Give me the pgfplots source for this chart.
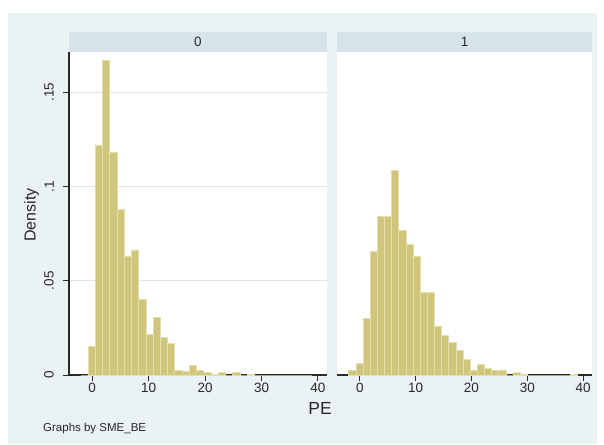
\documentclass[border=0pt]{standalone}
\usepackage{fontspec}
\setmainfont{Liberation Sans}
\usepackage{pgfplots}
\pgfplotsset{compat=1.18}
\definecolor{bg}{RGB}{234,242,243}
\definecolor{strip}{RGB}{214,227,234}
\definecolor{barfill}{RGB}{207,197,124}
\definecolor{barline}{RGB}{228,222,170}
\definecolor{gridc}{RGB}{222,230,234}
\definecolor{axc}{RGB}{40,40,40}
\pgfplotsset{
  panel/.style={
    anchor=south west, scale only axis,
    width=256pt, height=323pt,
    xmin=-4.1, xmax=41.6, ymin=0, ymax=0.1713,
    axis background/.style={fill=white},
    xtick={0,10,20,30,40}, xticklabels={0,10,20,30,40},
    ytick={0,0.05,0.1,0.15},
    ymajorgrids, grid style={gridc, line width=0.8pt},
    tick align=outside, major tick length=6pt,
    tick style={axc, line width=1pt},
    axis line style={axc, line width=1.2pt},
    ticklabel style={font=\fontsize{13.5}{15}\selectfont, text=axc},
    xticklabel style={yshift=1pt},
    clip=false,
  },
  bars/.style={ybar interval, fill=barfill, draw=barline, line width=0.6pt},
}
\begin{document}
\begin{tikzpicture}[x=1pt,y=1pt]
\fill[white] (0,0) rectangle (604,444);
\fill[bg] (8,0) rectangle (597,431);
\fill[strip] (69,392) rectangle (327,412);
\fill[strip] (337,392) rectangle (592,412);
\node[font=\fontsize{13.5}{15}\selectfont, text=axc] at (198,402) {0};
\node[font=\fontsize{13.5}{15}\selectfont, text=axc] at (464.5,402) {1};

\begin{axis}[panel, at={(69pt,69pt)}, width=258pt,
  axis x line*=bottom, axis y line*=left,
  yticklabels={0,.05,.1,.15},
  yticklabel style={rotate=90, anchor=south, inner sep=1pt, yshift=8pt}]
\addplot[bars] coordinates {
(-2.00,0) (-0.72,0.0154) (0.56,0.122) (1.84,0.167) (3.12,0.118) (4.40,0.0878)
(5.68,0.0627) (6.96,0.0663) (8.24,0.0401) (9.52,0.0217) (10.80,0.0306)
(12.08,0.0200) (13.36,0.0168) (14.64,0.0025) (15.92,0.0020) (17.20,0.0052)
(18.48,0.0026) (19.76,0.0012) (21.04,0.0004) (22.32,0.0012) (23.60,0)
(24.88,0.0012) (26.16,0) (27.44,0.0004) (28.72,0) (30.00,0) (31.28,0)
(32.56,0) (33.84,0) (35.12,0) (36.40,0) (37.68,0) (38.96,0)};
\end{axis}

\begin{axis}[panel, at={(337pt,69pt)}, width=255pt,
  axis x line*=bottom, axis y line=none,
  yticklabels={}, ytick style={draw=none}]
\addplot[bars] coordinates {
(-2.00,0.0023) (-0.72,0.0062) (0.56,0.030) (1.84,0.0657) (3.12,0.084) (4.40,0.084)
(5.68,0.1087) (6.96,0.0769) (8.24,0.0695) (9.52,0.0631) (10.80,0.044)
(12.08,0.044) (13.36,0.0256) (14.64,0.0212) (15.92,0.0171) (17.20,0.0129)
(18.48,0.0083) (19.76,0.0027) (21.04,0.0058) (22.32,0.0034) (23.60,0.0023)
(24.88,0.0027) (26.16,0) (27.44,0.0014) (28.72,0.0004) (30.00,0) (31.28,0)
(32.56,0) (33.84,0) (35.12,0) (36.40,0) (37.68,0.0004) (38.96,0)};
\end{axis}

\node[rotate=90, font=\fontsize{16}{18}\selectfont, text=axc] at (31.5,229) {Density};
\node[font=\fontsize{17.5}{19}\selectfont, text=axc] at (320,36) {PE};
\node[anchor=west, font=\fontsize{11.5}{13}\selectfont, text=axc, inner sep=0pt] at (43,15) {Graphs by SME\_BE};
\end{tikzpicture}
\end{document}
